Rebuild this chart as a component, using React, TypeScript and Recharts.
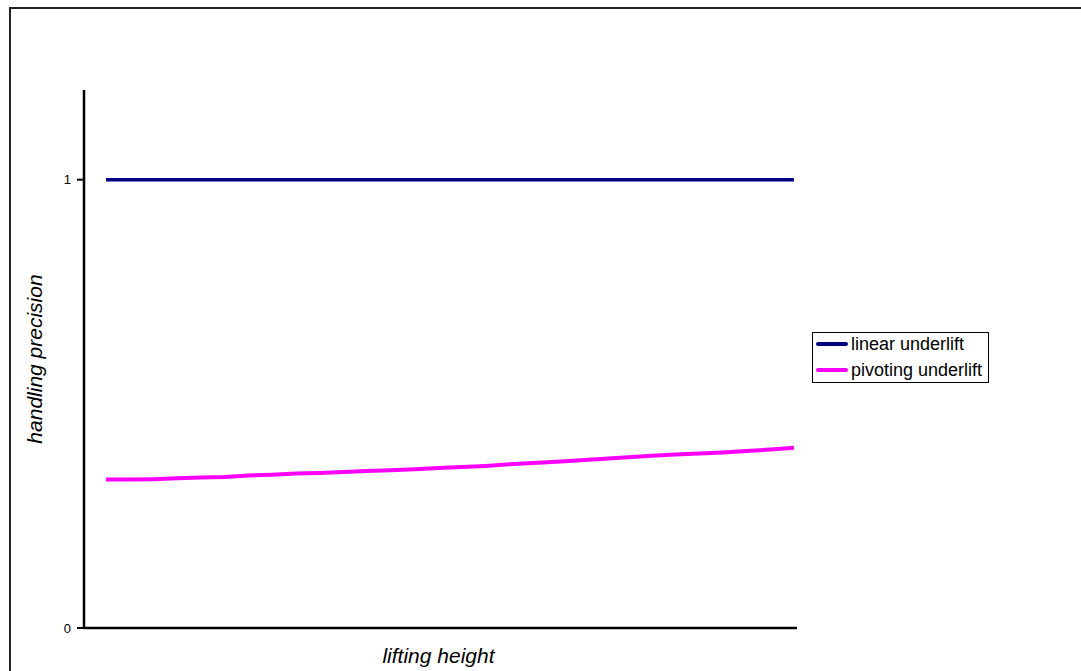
import { LineChart, Line, XAxis, YAxis, Label } from "recharts";

// lifting height steps (no tick labels are shown on the axis)
const heights = Array.from({ length: 30 }, (_, i) => String(i + 1));

const linearUnderlift = [
  1, 1, 1, 1, 1, 1, 1, 1, 1, 1,
  1, 1, 1, 1, 1, 1, 1, 1, 1, 1,
  1, 1, 1, 1, 1, 1, 1, 1, 1, 1,
];

const pivotingUnderlift = [
  0.331, 0.331, 0.332, 0.334, 0.3355, 0.337, 0.34, 0.342, 0.3445, 0.346,
  0.348, 0.35, 0.352, 0.354, 0.357, 0.359, 0.3615, 0.365, 0.368, 0.371,
  0.374, 0.3775, 0.381, 0.384, 0.387, 0.389, 0.3915, 0.395, 0.398, 0.402,
];

const yTicks = [0, 1];

const series = [
  { key: "linear", name: "linear underlift", color: "#000080", width: 3.5 },
  { key: "pivoting", name: "pivoting underlift", color: "#FF00FF", width: 4 },
];

const data = heights.map((h, i) => ({
  height: h,
  linear: linearUnderlift[i],
  pivoting: pivotingUnderlift[i],
}));

const FONT = "'Liberation Sans', Arial, sans-serif";

// legend box sits to the right of the plot, drawn as plain HTML
function LegendBox() {
  return (
    <div
      style={{
        position: "absolute",
        left: 812,
        top: 332,
        width: 177,
        height: 51,
        boxSizing: "border-box",
        border: "1px solid #000",
        background: "#fff",
        fontFamily: FONT,
        fontSize: 18,
        color: "#000",
      }}
    >
      {series.map((s, i) => (
        <div
          key={s.key}
          style={{ position: "absolute", left: 3, top: 0 + i * 26, height: 22, display: "flex", alignItems: "center", whiteSpace: "nowrap" }}
        >
          <svg width={32} height={8} style={{ marginRight: 3 }}>
            <line x1={2} y1={4} x2={30} y2={4} stroke={s.color} strokeWidth={4} strokeLinecap="round" />
          </svg>
          <span>{s.name}</span>
        </div>
      ))}
    </div>
  );
}

// rotated y title, centred on the plot height
function YTitle({ viewBox }: any) {
  const cx = 34;
  const cy = viewBox.y + viewBox.height / 2;
  return (
    <text
      x={cx}
      y={cy}
      transform={`rotate(-90, ${cx}, ${cy})`}
      textAnchor="middle"
      dominantBaseline="central"
      fontFamily={FONT}
      fontSize={21}
      fontStyle="italic"
      fill="#000"
    >
      handling precision
    </text>
  );
}

function XTitle({ viewBox }: any) {
  return (
    <text
      x={viewBox.x + viewBox.width / 2 - 2}
      y={655}
      textAnchor="middle"
      dominantBaseline="central"
      fontFamily={FONT}
      fontSize={21}
      fontStyle="italic"
      fill="#000"
    >
      lifting height
    </text>
  );
}

function YTick({ x, y, payload }: any) {
  return (
    <text x={x} y={y} textAnchor="end" dominantBaseline="central" fontFamily={FONT} fontSize={13} fill="#000">
      {payload.value}
    </text>
  );
}

export default function App() {
  return (
    <div style={{ position: "fixed", left: 0, top: 0, width: 1081, height: 671, overflow: "hidden", background: "#fff" }}>
      <div
        style={{
          position: "absolute",
          left: 9,
          top: 7,
          width: 1200,
          height: 800,
          border: "2px solid #222",
        }}
      />
      <div style={{ position: "absolute", left: 0, top: 0 }}>
        <LineChart width={1081} height={671} data={data} margin={{ top: 90, right: 284, bottom: 0, left: 0 }}>
          <XAxis
            dataKey="height"
            height={43}
            tick={false}
            tickLine={false}
            axisLine={{ stroke: "#000", strokeWidth: 2.5 }}
            padding={{ left: 22, right: 3 }}
          >
            <Label content={XTitle} />
          </XAxis>
          <YAxis
            width={84}
            domain={[0, 1.2]}
            ticks={yTicks}
            allowDataOverflow
            tickSize={7}
            tickMargin={6}
            tick={YTick}
            tickLine={{ stroke: "#000", strokeWidth: 2 }}
            axisLine={{ stroke: "#000", strokeWidth: 2.5 }}
          >
            <Label content={YTitle} />
          </YAxis>
          {series.map((s) => (
            <Line
              key={s.key}
              dataKey={s.key}
              name={s.name}
              type="linear"
              stroke={s.color}
              strokeWidth={s.width}
              dot={false}
              activeDot={false}
              isAnimationActive={false}
            />
          ))}
        </LineChart>
      </div>
      <LegendBox />
    </div>
  );
}
